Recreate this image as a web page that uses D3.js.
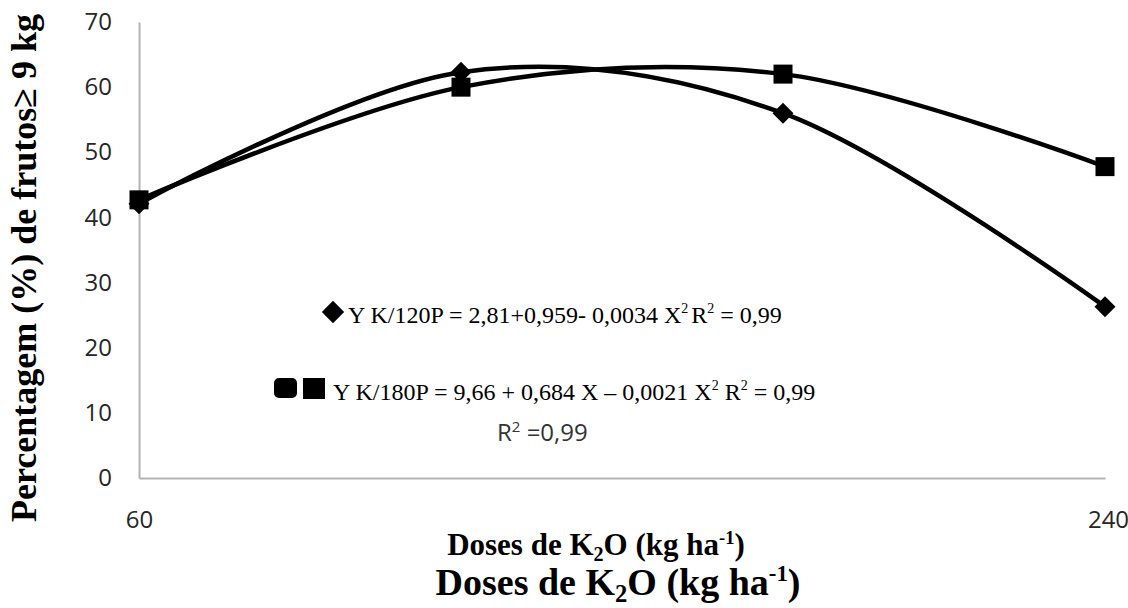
<!DOCTYPE html>
<html>
<head>
<meta charset="utf-8">
<script src="https://cdn.jsdelivr.net/npm/d3@7"></script>
<style>
  body { margin: 0; background: #fff; }
  svg { display: block; }
  .tick text { font-family: "Open Sans", sans-serif; fill: #262626; }
</style>
</head>
<body>
<svg id="chart"></svg>
<script>
const width = 1128
const height = 608

// doses de K2O (kg/ha)
const doses = [60, 120, 180, 240];
// K/120P (diamonds)
const k120 = [42.1, 62.3, 56.0, 26.3];
// K/180P (squares)
const k180 = [42.7, 60.0, 62.0, 47.8];

const yTicks = [0, 10, 20, 30, 40, 50, 60, 70];
const xTicks = [60, 240];

const svg = d3.select("#chart")
    .attr("width", width)
    .attr("height", height);

const x = d3.scaleLinear().domain([60, 240]).range([139, 1105]);
const y = d3.scaleLinear().domain([0, 70]).range([478, 22]);

// axes
const yAxis = svg.append("g")
    .attr("transform", `translate(${x(60)},0)`)
    .call(d3.axisLeft(y).tickValues(yTicks).tickSize(0).tickPadding(27));
yAxis.select(".domain").attr("stroke", "#b3b3b3").attr("stroke-width", 2);
yAxis.selectAll("text").attr("font-size", 24);

const xAxis = svg.append("g")
    .attr("transform", `translate(0,${y(0)})`)
    .call(d3.axisBottom(x).tickValues(xTicks).tickSize(0).tickPadding(33));
xAxis.select(".domain").attr("stroke", "#b3b3b3").attr("stroke-width", 2);
xAxis.selectAll("text").attr("font-size", 24)
    .attr("dx", (d, i) => i === 1 ? 3 : 0);

// smoothed lines
const line = d3.line()
    .x((d, i) => x(doses[i]))
    .y(d => y(d))
    .curve(d3.curveCardinal.tension(0));

[k120, k180].forEach(s => {
  svg.append("path")
      .datum(s)
      .attr("fill", "none")
      .attr("stroke", "#000")
      .attr("stroke-width", 4.5)
      .attr("d", line);
});

// markers
svg.append("g")
  .selectAll("path")
  .data(k120)
  .join("path")
    .attr("transform", (d, i) => `translate(${x(doses[i])},${y(d)})`)
    .attr("d", d3.symbol(d3.symbolDiamond2, 280))
    .attr("fill", "#000");

svg.append("g")
  .selectAll("rect")
  .data(k180)
  .join("rect")
    .attr("x", (d, i) => x(doses[i]) - 9.5)
    .attr("y", d => y(d) - 9.5)
    .attr("width", 19)
    .attr("height", 19)
    .attr("fill", "#000");

// equations
const serif = "'Liberation Serif', 'Times New Roman', serif";

svg.append("path")
    .attr("transform", "translate(333,312)")
    .attr("d", d3.symbol(d3.symbolDiamond2, 320))
    .attr("fill", "#000");

const eq1 = svg.append("text")
    .attr("x", 348).attr("y", 323)
    .attr("font-family", serif).attr("font-size", 24);
eq1.append("tspan").text("Y K/120P = 2,81+0,959- 0,0034 X");
eq1.append("tspan").attr("font-size", 14).attr("dy", -10).text("2");
eq1.append("tspan").attr("dy", 10).attr("dx", 3).text("R");
eq1.append("tspan").attr("font-size", 14).attr("dy", -10).text("2");
eq1.append("tspan").attr("dy", 10).text(" = 0,99");

svg.append("rect")
    .attr("x", 274).attr("y", 378).attr("width", 23).attr("height", 20)
    .attr("rx", 5).attr("fill", "#000");
svg.append("rect")
    .attr("x", 303).attr("y", 378).attr("width", 22).attr("height", 21)
    .attr("fill", "#000");

const eq2 = svg.append("text")
    .attr("x", 333).attr("y", 400)
    .attr("font-family", serif).attr("font-size", 24);
eq2.append("tspan").text("Y  K/180P = 9,66 + 0,684 X \u2013 0,0021 X");
eq2.append("tspan").attr("font-size", 14).attr("dy", -10).text("2");
eq2.append("tspan").attr("dy", 10).text(" R");
eq2.append("tspan").attr("font-size", 14).attr("dy", -10).text("2");
eq2.append("tspan").attr("dy", 10).text(" = 0,99");

const r2 = svg.append("text")
    .attr("x", 497).attr("y", 441)
    .attr("font-family", "'Open Sans', sans-serif").attr("font-size", 24)
    .attr("fill", "#333");
r2.append("tspan").text("R");
r2.append("tspan").attr("font-size", 15).attr("dy", -9).text("2");
r2.append("tspan").attr("dy", 9).text(" =0,99");

// axis titles
function doseTitle(g, size, cx, cy) {
  const t = g.append("text")
      .attr("x", cx).attr("y", cy)
      .attr("text-anchor", "middle")
      .attr("font-family", serif)
      .attr("font-weight", "bold")
      .attr("font-size", size);
  t.append("tspan").text("Doses de K");
  t.append("tspan").attr("font-size", size * 0.65).attr("dy", size * 0.18).text("2");
  t.append("tspan").attr("dy", -size * 0.18).text("O (kg ha");
  t.append("tspan").attr("font-size", size * 0.6).attr("dy", -size * 0.36).text("-1");
  t.append("tspan").attr("dy", size * 0.36).text(")");
}
doseTitle(svg, 31, 596, 555);
doseTitle(svg, 38, 618, 595);

svg.append("text")
    .attr("transform", "translate(36,268) rotate(-90)")
    .attr("text-anchor", "middle")
    .attr("font-family", serif)
    .attr("font-weight", "bold")
    .attr("font-size", 36)
    .text("Percentagem (%) de frutos\u2265 9 kg");
</script>
</body>
</html>
